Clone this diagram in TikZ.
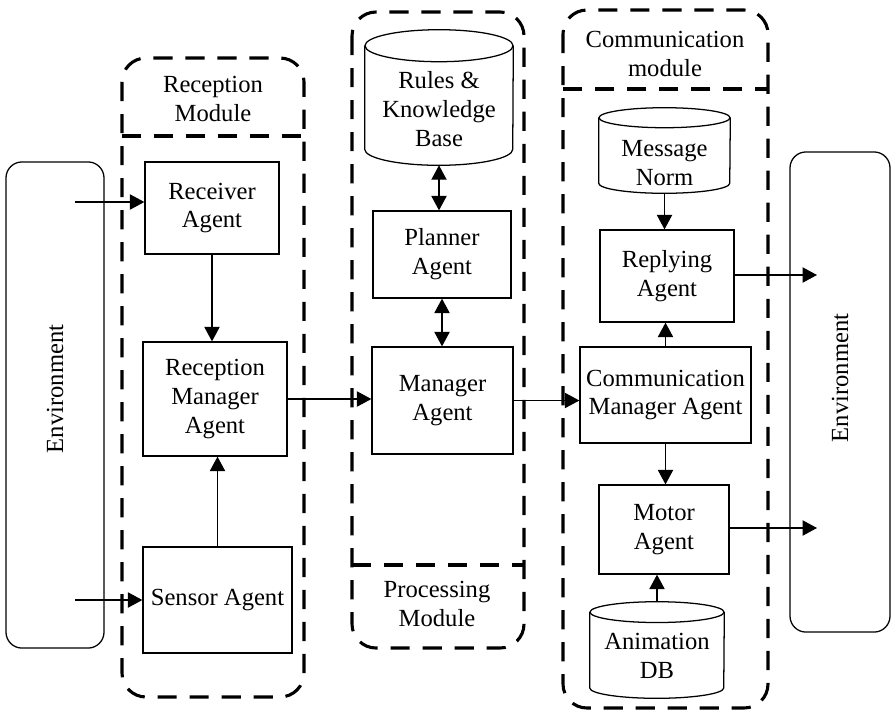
\documentclass[tikz,border=0pt]{standalone}
\usepackage{fontspec}
\setmainfont{Liberation Serif}
\usetikzlibrary{arrows.meta}
\tikzset{
  every node/.style={font=\fontsize{17.5}{20.6}\selectfont},
  agent/.style={draw, line width=0.9pt, align=center, inner sep=0pt},
  dbbox/.style={inner sep=0pt},
  dbline/.style={line width=0.9pt},
  envbox/.style={draw, line width=0.9pt, rounded corners=0.4cm, rotate=90,
    inner sep=0pt},
  module/.style={line width=2.2pt, dash pattern=on 0.48cm off 0.32cm},
  modtitle/.style={align=center},
  arr/.style={line width=0.9pt, -{Triangle[length=0.36cm,width=0.38cm]}},
  darr/.style={line width=0.9pt,
    {Triangle[length=0.36cm,width=0.38cm]}-{Triangle[length=0.36cm,width=0.38cm]}}
}
% outline of a data base around node #1; #2 half width, #3 radius of the ends
\def\DataBase#1#2#3{%
  \draw[dbline] ([yshift=-#3]#1.north) ellipse [x radius=#2, y radius=#3];
  \draw[dbline] ([yshift=-#3]#1.north west) -- ([yshift=#3]#1.south west)
    arc [start angle=180, end angle=360, x radius=#2, y radius=#3]
    -- ([yshift=-#3]#1.north east);
}
\begin{document}
\begin{tikzpicture}[x=0.025cm, y=-0.025cm]
\useasboundingbox (0,0) rectangle (892,712);

% the three modules
\draw[module, rounded corners=0.6cm] (122,58) rectangle (304,697);
\draw[module] (122,136) -- (304,136);
\node[modtitle] (recTitle) at (213,99) {Reception\\Module};

\draw[module, rounded corners=0.6cm] (352,12) rectangle (524,648);
\draw[module] (352,565) -- (524,565);
\node[modtitle] (procTitle) at (437,604) {Processing\\Module};

\draw[module, rounded corners=0.6cm] (563,10) rectangle (768,708);
\draw[module] (563,89) -- (768,89);
\node[modtitle] (commTitle) at (665,54) {Communication\\module};

% environment on both sides
\node[envbox, minimum width=12.15cm, minimum height=2.45cm] (envL) at (55,405) {\hspace*{0.8cm}Environment};
\node[envbox, minimum width=12cm, minimum height=2.5cm] (envR) at (840,392) {\hspace*{0.7cm}Environment};

% reception module
\node[agent, minimum width=3.35cm, minimum height=2.3cm] (recv) at (212,208) {Receiver\\Agent};
\node[agent, minimum width=3.6cm, minimum height=2.85cm] (recMan) at (215,399) {Reception\\Manager\\Agent};
\node[agent, minimum width=3.725cm, minimum height=2.65cm] (sensor) at (217.5,600) {Sensor Agent};

% processing module
\node[dbbox, minimum width=3.7cm, minimum height=3.375cm,
  label={[align=center, yshift=-0.29cm]center:Rules \&\\Knowledge\\Base}] (rules) at (439,97.5) {};
\DataBase{rules}{1.85cm}{0.4cm}
\node[agent, minimum width=3.45cm, minimum height=2.175cm] (planner) at (442,254.5) {Planner\\Agent};
\node[agent, minimum width=3.525cm, minimum height=2.675cm] (manager) at (442.5,400.5) {Manager\\Agent};

% communication module
\node[dbbox, minimum width=3.275cm, minimum height=2.125cm,
  label={[align=center, yshift=-0.31cm]center:Message\\Norm}] (msgNorm) at (664.5,150.5) {};
\DataBase{msgNorm}{1.6375cm}{0.25cm}
\node[agent, minimum width=3.35cm, minimum height=2.3cm] (reply) at (667,276) {Replying\\Agent};
\node[agent, minimum width=4.275cm, minimum height=2.4cm] (commMan) at (665.5,395) {Communication\\Manager Agent};
\node[agent, minimum width=3.25cm, minimum height=2.225cm] (motor) at (664,529.5) {Motor\\Agent};
\node[dbbox, minimum width=3.35cm, minimum height=2.4cm,
  label={[align=center, yshift=-0.15cm]center:Animation\\DB}] (anim) at (657,650) {};
\DataBase{anim}{1.675cm}{0.26cm}

% free ends of the outer arrows
\coordinate (inRecv) at (75,202);
\coordinate (inSensor) at (75,600);
\coordinate (outReply) at (817,275);
\coordinate (outMotor) at (817,528);

% connectors
\draw[arr] (inRecv) -- (inRecv -| recv.west);
\draw[arr] (inSensor) -- (sensor.west);
\draw[arr] (recv.south) -- (recv.south |- recMan.north);
\draw[arr] (sensor.north) -- (sensor.north |- recMan.south);
\draw[arr] (recMan.east) -- (recMan.east -| manager.west);
\draw[arr] (manager.east) -- (manager.east -| commMan.west);
\draw[darr] (rules.south) -- (rules.south |- planner.north);
\draw[darr] (planner.south) -- (planner.south |- manager.north);
\draw[arr] (msgNorm.south) -- (msgNorm.south |- reply.north);
\draw[arr] (commMan.north) -- (commMan.north |- reply.south);
\draw[arr] (commMan.south) -- (commMan.south |- motor.north);
\draw[arr] (anim.north) -- (anim.north |- motor.south);
\draw[arr] (reply.east |- outReply) -- (outReply);
\draw[arr] (motor.east |- outMotor) -- (outMotor);
\end{tikzpicture}
\end{document}
